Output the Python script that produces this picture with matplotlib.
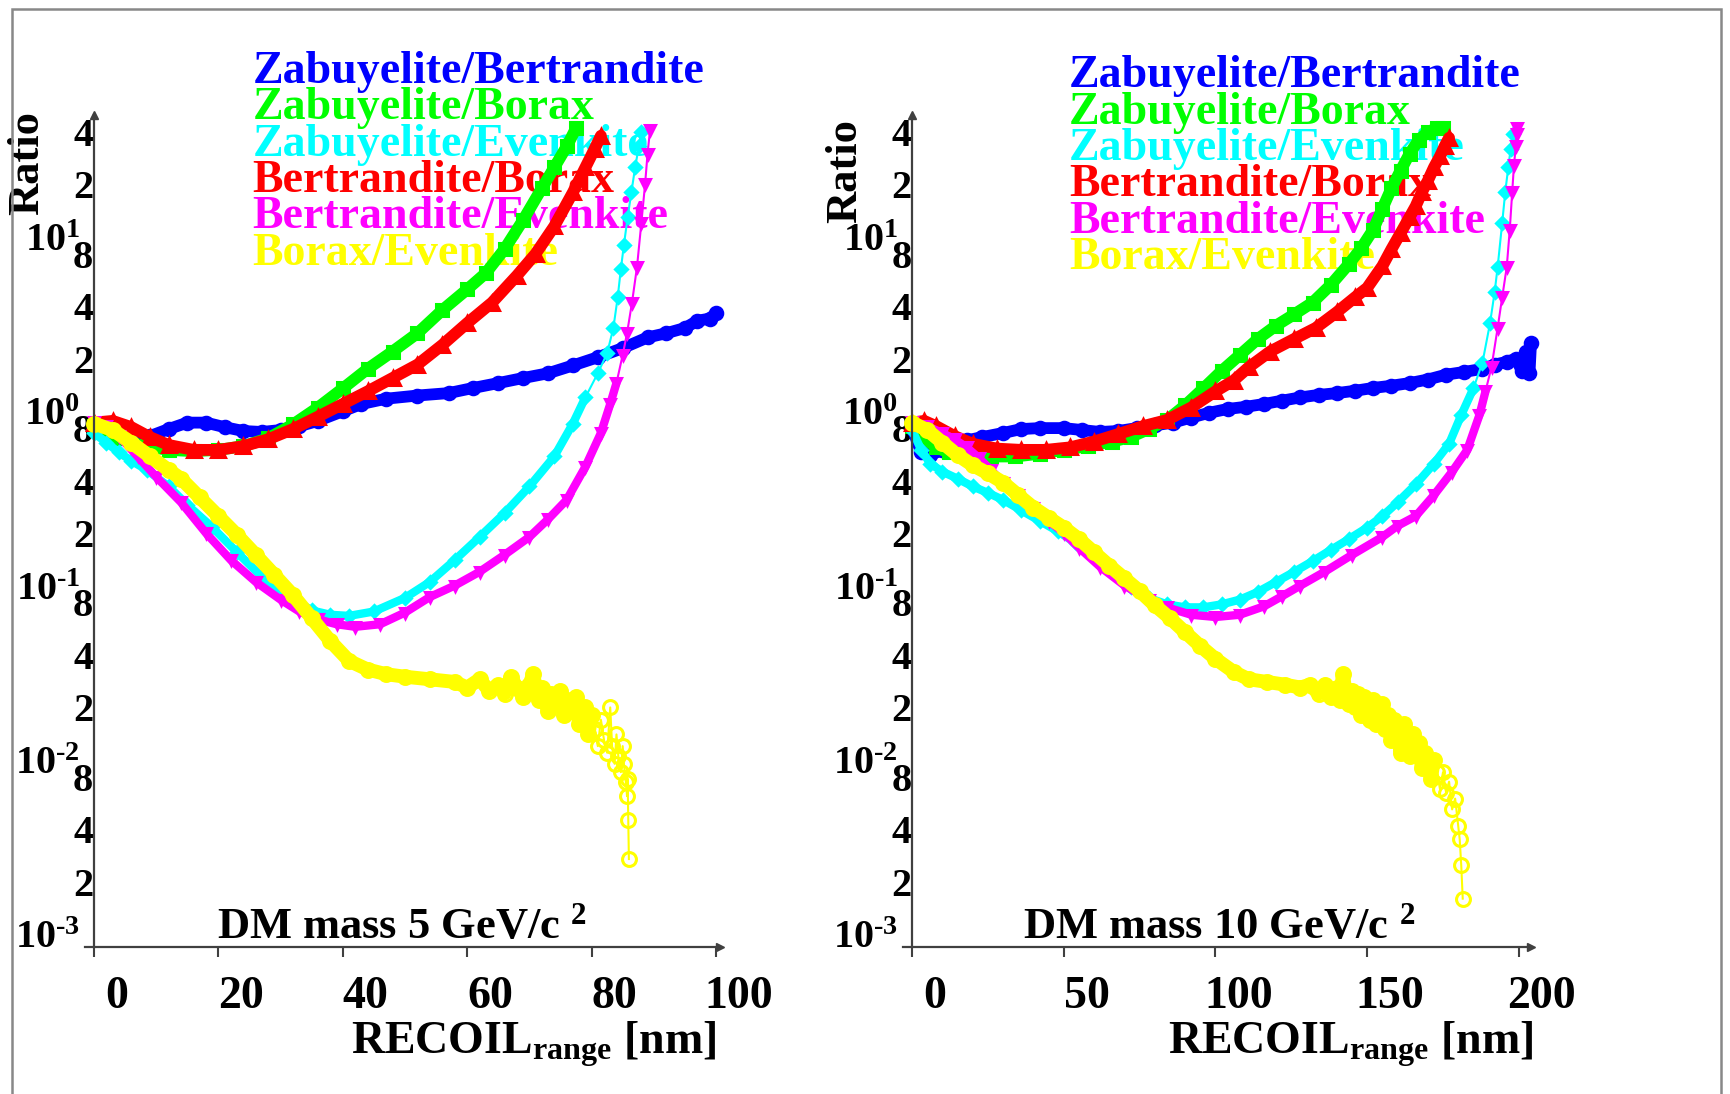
import matplotlib
matplotlib.use('Agg')
import matplotlib.pyplot as plt
from matplotlib.patches import Rectangle
from matplotlib.ticker import FixedLocator, FixedFormatter
from matplotlib.transforms import ScaledTranslation

plt.rcParams['font.family'] = 'Liberation Serif'
plt.rcParams['font.weight'] = 'bold'
plt.rcParams['axes.labelweight'] = 'bold'
plt.rcParams['mathtext.fontset'] = 'custom'
plt.rcParams['mathtext.rm'] = 'Liberation Serif:bold'
plt.rcParams['mathtext.bf'] = 'Liberation Serif:bold'
plt.rcParams['mathtext.it'] = 'Liberation Serif:bold'

# series (legend order = drawing order)
names = ['Zabuyelite/Bertrandite', 'Zabuyelite/Borax', 'Zabuyelite/Evenkite',
         'Bertrandite/Borax', 'Bertrandite/Evenkite', 'Borax/Evenkite']
colors = ['#0000ff', '#00ff00', '#00ffff', '#ff0000', '#ff00ff', '#ffff00']
markers = ['o', 's', 'D', '^', 'v', 'o']

# ---- DM mass 5 GeV/c^2 ----
blue5_x = [0, 3, 6, 9, 12, 15, 18, 21, 24, 27, 30, 33, 36, 40, 43, 47, 52, 57, 61, 65,
           69, 73, 77, 81, 85, 89, 92, 95, 97, 99, 100]
blue5_y = [0.80, 0.73, 0.70, 0.72, 0.79, 0.86, 0.86, 0.81, 0.77, 0.76, 0.78, 0.82, 0.88,
           1.00, 1.10, 1.18, 1.23, 1.27, 1.36, 1.45, 1.55, 1.65, 1.83, 2.04, 2.30, 2.65,
           2.80, 3.00, 3.30, 3.40, 3.65]
green5_x = [0, 4, 8, 12, 16, 20, 24, 28, 32, 36, 40, 44, 48, 52, 56, 60, 63, 66, 69, 72,
            74, 76, 77.5]
green5_y = [0.82, 0.70, 0.63, 0.60, 0.59, 0.60, 0.63, 0.70, 0.84, 1.05, 1.35, 1.75, 2.2,
            2.8, 3.8, 5.0, 6.2, 8.5, 12.5, 19, 25, 33, 42]
cyan5_x = [0, 2, 4, 6, 8.5, 12, 15, 19, 23, 27, 31, 35, 38, 41, 45, 50, 54, 58, 62, 66,
           70, 74, 77, 79, 81, 82.5, 83.5, 84.2, 84.7, 85.2, 85.8, 86.4, 87, 87.6, 88]
cyan5_y = [0.75, 0.66, 0.58, 0.52, 0.46, 0.37, 0.29, 0.216, 0.155, 0.112, 0.088, 0.072,
           0.068, 0.067, 0.071, 0.085, 0.105, 0.14, 0.19, 0.26, 0.37, 0.55, 0.85, 1.2,
           1.65, 2.15, 3.0, 4.5, 6.5, 9.0, 13, 18, 25, 33, 40]
red5_x = [0, 3, 6, 9, 12, 16, 20, 24, 28, 32, 36, 40, 44, 48, 52, 56, 60, 64, 68, 71,
          74, 77, 79, 80.5, 81.5]
red5_y = [0.86, 0.88, 0.81, 0.71, 0.64, 0.60, 0.60, 0.63, 0.69, 0.79, 0.93, 1.10, 1.30,
          1.55, 1.85, 2.40, 3.2, 4.2, 6.0, 8.0, 11.5, 18, 25, 32, 38]
magenta5_x = [0, 2, 4, 7, 10, 14, 18, 22, 26, 30, 33, 36, 39, 42, 46, 50, 54, 58, 62, 66,
              70, 73, 76, 79, 81.5, 83, 84, 85, 85.7, 86.5, 87.3, 88, 88.6, 89, 89.4]
magenta5_y = [0.87, 0.82, 0.72, 0.55, 0.42, 0.30, 0.20, 0.14, 0.105, 0.083, 0.071, 0.064,
              0.060, 0.058, 0.060, 0.070, 0.086, 0.10, 0.12, 0.15, 0.19, 0.24, 0.31, 0.48,
              0.75, 1.1, 1.45, 2.1, 2.8, 4.2, 6.7, 12, 20, 30, 41]
yellow5_x = [0, 3, 6, 9, 12, 14, 17, 20, 23, 26, 29, 32, 35, 38, 41, 44, 47, 50, 54,
             58, 60, 62, 63.5, 65, 66, 67, 68, 69, 70, 70.6, 71.5, 72, 73, 73.5, 74, 75,
             75.5, 76, 77, 77.5, 78, 79, 79.5, 80, 80.5, 81, 81.5, 82, 82.5, 83, 83.3,
             83.7, 84, 84.3, 84.7, 85, 85.2, 85.5, 85.7, 85.8, 85.9, 86]
yellow5_y = [0.85, 0.78, 0.66, 0.55, 0.46, 0.41, 0.32, 0.25, 0.195, 0.15, 0.115, 0.088,
             0.065, 0.048, 0.037, 0.033, 0.031, 0.030, 0.029,
             0.028, 0.026, 0.029, 0.025, 0.027, 0.024, 0.030, 0.026, 0.023, 0.027,
             0.031, 0.022, 0.026, 0.019, 0.024, 0.022, 0.025, 0.018, 0.022, 0.019,
             0.023, 0.016, 0.020, 0.014, 0.018, 0.015, 0.012, 0.017, 0.013, 0.011,
             0.020, 0.012, 0.0095, 0.014, 0.0105, 0.0085, 0.012, 0.0095, 0.0075, 0.0062,
             0.0078, 0.0045, 0.0027]

# ---- DM mass 10 GeV/c^2 ----
blue10_x = [0, 3, 6, 10, 14, 18, 23, 30, 36, 42, 50, 56, 62, 68, 74, 80, 86, 92, 98, 104,
            110, 116, 122, 128, 134, 140, 146, 152, 158, 164, 170, 176, 182, 188, 192,
            196, 199, 201, 202.5, 203.5, 204]
blue10_y = [0.80, 0.58, 0.56, 0.60, 0.64, 0.68, 0.71, 0.75, 0.79, 0.80, 0.80, 0.78, 0.76,
            0.77, 0.80, 0.83, 0.86, 0.92, 0.98, 1.03, 1.06, 1.10, 1.15, 1.20, 1.24, 1.27,
            1.31, 1.36, 1.40, 1.45, 1.52, 1.62, 1.68, 1.75, 1.85, 1.92, 2.0, 1.7, 2.2,
            1.65, 2.45]
green10_x = [0, 4, 8, 12, 18, 26, 34, 42, 50, 58, 66, 72, 78, 84, 90, 96, 102, 108, 114,
             120, 126, 132, 138, 144, 148, 152, 155, 158, 161, 164, 167, 170, 173, 175]
green10_y = [0.82, 0.70, 0.62, 0.58, 0.56, 0.55, 0.55, 0.57, 0.60, 0.63, 0.67, 0.71, 0.79,
             0.89, 1.08, 1.35, 1.7, 2.1, 2.6, 3.1, 3.6, 4.2, 5.3, 7.0, 8.6, 11, 14.5, 19,
             24, 30, 36, 40, 42, 42]
cyan10_x = [0, 3, 6, 10, 15, 20, 25, 30, 36, 42, 48, 54, 60, 66, 72, 78, 84, 90, 96, 102,
            108, 114, 120, 126, 132, 138, 144, 150, 155, 160, 166, 172, 177, 181, 185,
            188, 190.5, 192, 193, 194.5, 195.5, 196.5, 197.3, 198]
cyan10_y = [0.78, 0.60, 0.50, 0.45, 0.41, 0.37, 0.34, 0.31, 0.27, 0.235, 0.205, 0.175,
            0.145, 0.12, 0.098, 0.085, 0.078, 0.075, 0.075, 0.078, 0.083, 0.092, 0.105,
            0.12, 0.138, 0.16, 0.185, 0.215, 0.25, 0.30, 0.38, 0.50, 0.65, 0.95, 1.35,
            1.9, 3.2, 4.8, 6.7, 12, 18, 25, 32, 39]
red10_x = [0, 4, 8, 14, 20, 28, 36, 44, 52, 60, 68, 76, 84, 92, 100, 106, 111, 118, 126,
           133, 140, 146, 150, 155, 158, 161, 164, 166, 168, 170, 172, 174, 175.5, 177]
red10_y = [0.86, 0.88, 0.82, 0.72, 0.65, 0.61, 0.60, 0.60, 0.62, 0.67, 0.74, 0.82, 0.89,
           1.05, 1.3, 1.5, 1.79, 2.2, 2.6, 3.0, 3.7, 4.5, 5.1, 6.8, 8.5, 10.5, 13, 15,
           18, 21, 25, 29, 33, 37]
magenta10_x = [0, 5, 10, 14, 18, 22, 26, 30, 35, 40, 45, 50, 55, 62, 70, 78, 84, 92, 100,
               108, 116, 122, 128, 136, 145, 155, 160, 166, 172, 178, 183, 187, 189, 191,
               193, 194.5, 196, 197, 197.8, 198.4, 199, 199.3, 199.5]
magenta10_y = [0.87, 0.82, 0.75, 0.69, 0.62, 0.54, 0.46, 0.39, 0.33, 0.28, 0.235, 0.20,
               0.165, 0.128, 0.10, 0.083, 0.075, 0.068, 0.066, 0.068, 0.076, 0.087, 0.10,
               0.12, 0.15, 0.19, 0.22, 0.25, 0.33, 0.45, 0.60, 0.95, 1.3, 1.8, 3.0, 4.5,
               6.7, 11, 18, 26, 33, 39, 42]
yellow10_x = [0, 5, 10, 15, 20, 25, 30, 35, 40, 45, 50, 55, 60, 65, 70, 75, 80, 85, 90,
              95, 100, 106, 111, 117, 123,
              128, 131, 134, 136, 138, 140, 141, 142, 143, 144, 145, 146, 147, 148, 149,
              150, 151, 152, 153, 154, 155, 156, 157, 158, 159, 160, 161, 162, 163, 164,
              165, 166, 167, 168, 169, 170, 171, 172, 173, 174, 175, 176, 177, 178, 179,
              180, 180.5, 181, 181.5]
yellow10_y = [0.86, 0.78, 0.66, 0.56, 0.49, 0.44, 0.39, 0.33, 0.28, 0.245, 0.215, 0.185,
              0.155, 0.13, 0.11, 0.093, 0.077, 0.065, 0.054, 0.045, 0.038, 0.032, 0.029,
              0.028, 0.027,
              0.026, 0.027, 0.024, 0.027, 0.023, 0.026, 0.022, 0.031, 0.024, 0.021,
              0.025, 0.020, 0.024, 0.018, 0.023, 0.021, 0.017, 0.022, 0.016, 0.019,
              0.021, 0.015, 0.018, 0.013, 0.017, 0.015, 0.011, 0.016, 0.013, 0.0105,
              0.014, 0.011, 0.0125, 0.009, 0.011, 0.0095, 0.0078, 0.010, 0.0085, 0.0068,
              0.0085, 0.0065, 0.0075, 0.0052, 0.006, 0.0042, 0.0035, 0.0025, 0.0016]

xticks5 = [0, 20, 40, 60, 80, 100]
xticks10 = [0, 50, 100, 150, 200]
ymajor = [1e-3, 1e-2, 1e-1, 1e0, 1e1]
ymajor_labels = [r'$10^{\text{-}3}$', r'$10^{\text{-}2}$', r'$10^{\text{-}1}$',
                 r'$10^{0}$', r'$10^{1}$']
yminor = [2e-3, 4e-3, 8e-3, 2e-2, 4e-2, 8e-2, 0.2, 0.4, 0.8, 2, 4, 8, 20, 40]
yminor_labels = ['2', '4', '8'] * 4 + ['2', '4']

panel5 = [(blue5_x, blue5_y), (green5_x, green5_y), (cyan5_x, cyan5_y),
          (red5_x, red5_y), (magenta5_x, magenta5_y), (yellow5_x, yellow5_y)]
panel10 = [(blue10_x, blue10_y), (green10_x, green10_y), (cyan10_x, cyan10_y),
           (red10_x, red10_y), (magenta10_x, magenta10_y), (yellow10_x, yellow10_y)]

band_lw = [8.5, 8.5, 6.0, 8.5, 6.0, 10]
mark_ms = [9, 8.5, 6.5, 9.5, 7.5, 10]
cut5 = [999, 999, 80, 999, 84, 80]
cut10 = [999, 999, 185, 999, 189, 172]

axis_col = '#404040'

fig = plt.figure(figsize=(17.31, 10.94), dpi=100)
fig.add_artist(Rectangle((12 / 1731, -0.05), 1709 / 1731, 1.05 - 9 / 1094,
                         transform=fig.transFigure, fill=False, ec='#888888', lw=1.8))


def draw_panel(ax, data, cuts, xlim, xticks, mass, leg_y0):
    for (x, y), c, m, lw, ms, cut in zip(data, colors, markers, band_lw, mark_ms, cuts):
        nb = len([a for a in x if a <= cut])
        ax.plot(x[:nb], y[:nb], color=c, lw=lw, solid_capstyle='round',
                solid_joinstyle='round', zorder=2, clip_on=False)
        face = 'none' if c == '#ffff00' else c
        ax.plot(x, y, color=c, lw=1.5, marker=m, ms=ms, mfc=face, mec=c, mew=2.2,
                zorder=2, clip_on=False)

    ax.set_yscale('log')
    ax.set_ylim(8.45e-4, 50)
    ax.set_xlim(*xlim)
    for s in ['top', 'right']:
        ax.spines[s].set_visible(False)
    ax.spines['left'].set_position(('data', 0))
    for s in ['left', 'bottom']:
        ax.spines[s].set_color(axis_col)
        ax.spines[s].set_linewidth(1.6)
    # arrow heads at the axis ends
    ax.plot([0], [1], marker='^', ms=6, color=axis_col, transform=ax.get_xaxis_transform(),
            clip_on=False)
    ax.plot([1], [0], marker='>', ms=6, color=axis_col, transform=ax.transAxes,
            clip_on=False)

    ax.yaxis.set_major_locator(FixedLocator(ymajor))
    ax.yaxis.set_major_formatter(FixedFormatter(ymajor_labels))
    ax.yaxis.set_minor_locator(FixedLocator(yminor))
    ax.yaxis.set_minor_formatter(FixedFormatter(yminor_labels))
    ax.tick_params(axis='y', which='both', length=0, labelsize=29)
    ax.tick_params(axis='y', which='major', pad=10)
    ax.tick_params(axis='y', which='minor', pad=0.5)

    ax.set_xticks(xticks)
    ax.set_xticklabels([str(t) for t in xticks])
    ax.tick_params(axis='x', which='major', length=7, width=1.5, color=axis_col,
                   direction='out', labelsize=33, pad=14)
    off = ScaledTranslation(0.23, 0, fig.dpi_scale_trans)
    for lab in ax.get_xticklabels():
        lab.set_transform(lab.get_transform() + off)

    ax.set_xlabel(r'$\mathrm{RECOIL}_{\mathrm{range}}$ [nm]', fontsize=33)
    ax.set_ylabel('Ratio', fontsize=32)

    for i, (nm, c) in enumerate(zip(names, colors)):
        ax.text(0.264, leg_y0 - i * 0.04375, nm, color=c, fontsize=33, ha='left',
                va='baseline', transform=ax.transAxes, zorder=1, clip_on=False)
    ax.text(0.0, 0.011, 'DM mass %d GeV/c $^{2}$' % mass, fontsize=32, ha='left',
            va='baseline', transform=ax.transAxes, zorder=1)
    return ax


ax1 = fig.add_axes([0.04893, 0.13437, 0.36684, 0.76051])
draw_panel(ax1, panel5, cut5, (-1.5, 100.6), xticks5, 5, 1.0387)
ax1.texts[-1].set_x(0.209)
ax1.xaxis.set_label_coords(0.7076, -0.1286)
ax1.xaxis.label.set_va('baseline')
ax1.yaxis.set_label_coords(-0.0909, 0.942)
ax1.yaxis.label.set_va('center')

ax2 = fig.add_axes([0.52166, 0.13437, 0.36280, 0.76051])
draw_panel(ax2, panel10, cut10, (-3, 204), xticks10, 10, 1.0334)
ax2.texts[-1].set_x(0.191)
ax2.xaxis.set_label_coords(0.712, -0.1286)
ax2.xaxis.label.set_va('baseline')
ax2.yaxis.set_label_coords(-0.0924, 0.933)
ax2.yaxis.label.set_va('center')

fig.savefig('out.png', dpi=100)
